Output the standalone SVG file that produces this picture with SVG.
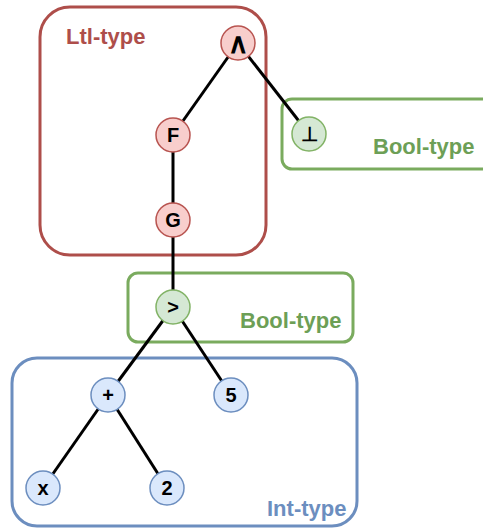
<svg xmlns="http://www.w3.org/2000/svg" width="483" height="528" viewBox="0 0 483 528">
  <style>
    .box { fill: none; stroke-width: 3; }
    .ltl { stroke: #ae4e4a; }
    .bool { stroke: #7aab5e; }
    .int { stroke: #6c8ebf; }
    .lbl { font-family: "Liberation Sans", Arial, sans-serif; font-weight: bold; font-size: 22px; }
    .edge { stroke: #000; stroke-width: 3; fill: none; }
    .n circle { stroke-width: 1.5; }
    .red circle { fill: #f8cecc; stroke: #b85450; }
    .green circle { fill: #d5e8d4; stroke: #82b366; }
    .blue circle { fill: #dae8fc; stroke: #6c8ebf; }
    .n text { font-family: "Liberation Sans", Arial, sans-serif; font-weight: bold; font-size: 20px; text-anchor: middle; fill: #000; }
    .n text.big { font-size: 28px; }
  </style>

  <!-- type regions -->
  <g id="ltl-type">
    <rect class="box ltl" x="40" y="7" width="226" height="248" rx="30"/>
    <text class="lbl" x="66" y="44" fill="#ae4e4a">Ltl-type</text>
  </g>
  <g id="bool-type-1">
    <rect class="box bool" x="282" y="99" width="220" height="70" rx="10"/>
    <text class="lbl" x="373" y="154" fill="#6d9f56">Bool-type</text>
  </g>
  <g id="bool-type-2">
    <rect class="box bool" x="128" y="273" width="225" height="69" rx="10"/>
    <text class="lbl" x="240" y="328" fill="#6d9f56">Bool-type</text>
  </g>
  <g id="int-type">
    <rect class="box int" x="12" y="358" width="345" height="168" rx="25"/>
    <text class="lbl" x="267" y="516" fill="#6c8ebf">Int-type</text>
  </g>

  <!-- tree edges -->
  <g id="edges">
    <line class="edge" x1="238" y1="43" x2="173" y2="135"/>
    <line class="edge" x1="238" y1="43" x2="309" y2="134"/>
    <line class="edge" x1="173" y1="135" x2="173" y2="220"/>
    <line class="edge" x1="173" y1="220" x2="173" y2="307"/>
    <line class="edge" x1="173" y1="307" x2="108" y2="395"/>
    <line class="edge" x1="173" y1="307" x2="231" y2="395"/>
    <line class="edge" x1="108" y1="395" x2="43" y2="488"/>
    <line class="edge" x1="108" y1="395" x2="167" y2="488"/>
  </g>

  <!-- tree nodes -->
  <g id="and" class="n red"><circle cx="238" cy="43" r="17"/><text class="big" x="238" y="53">∧</text></g>
  <g id="finally" class="n red"><circle cx="173" cy="135" r="17"/><text x="173" y="142">F</text></g>
  <g id="globally" class="n red"><circle cx="173" cy="220" r="17"/><text x="173" y="227">G</text></g>
  <g id="bottom" class="n green"><circle cx="309" cy="134" r="17"/><text x="309" y="141">⊥</text></g>
  <g id="greater" class="n green"><circle cx="173" cy="307" r="17"/><text x="173" y="314">&gt;</text></g>
  <g id="plus" class="n blue"><circle cx="108" cy="395" r="17"/><text x="108" y="402">+</text></g>
  <g id="five" class="n blue"><circle cx="231" cy="395" r="17"/><text x="231" y="402">5</text></g>
  <g id="x" class="n blue"><circle cx="43" cy="488" r="17"/><text x="43" y="495">x</text></g>
  <g id="two" class="n blue"><circle cx="167" cy="488" r="17"/><text x="167" y="495">2</text></g>
</svg>
